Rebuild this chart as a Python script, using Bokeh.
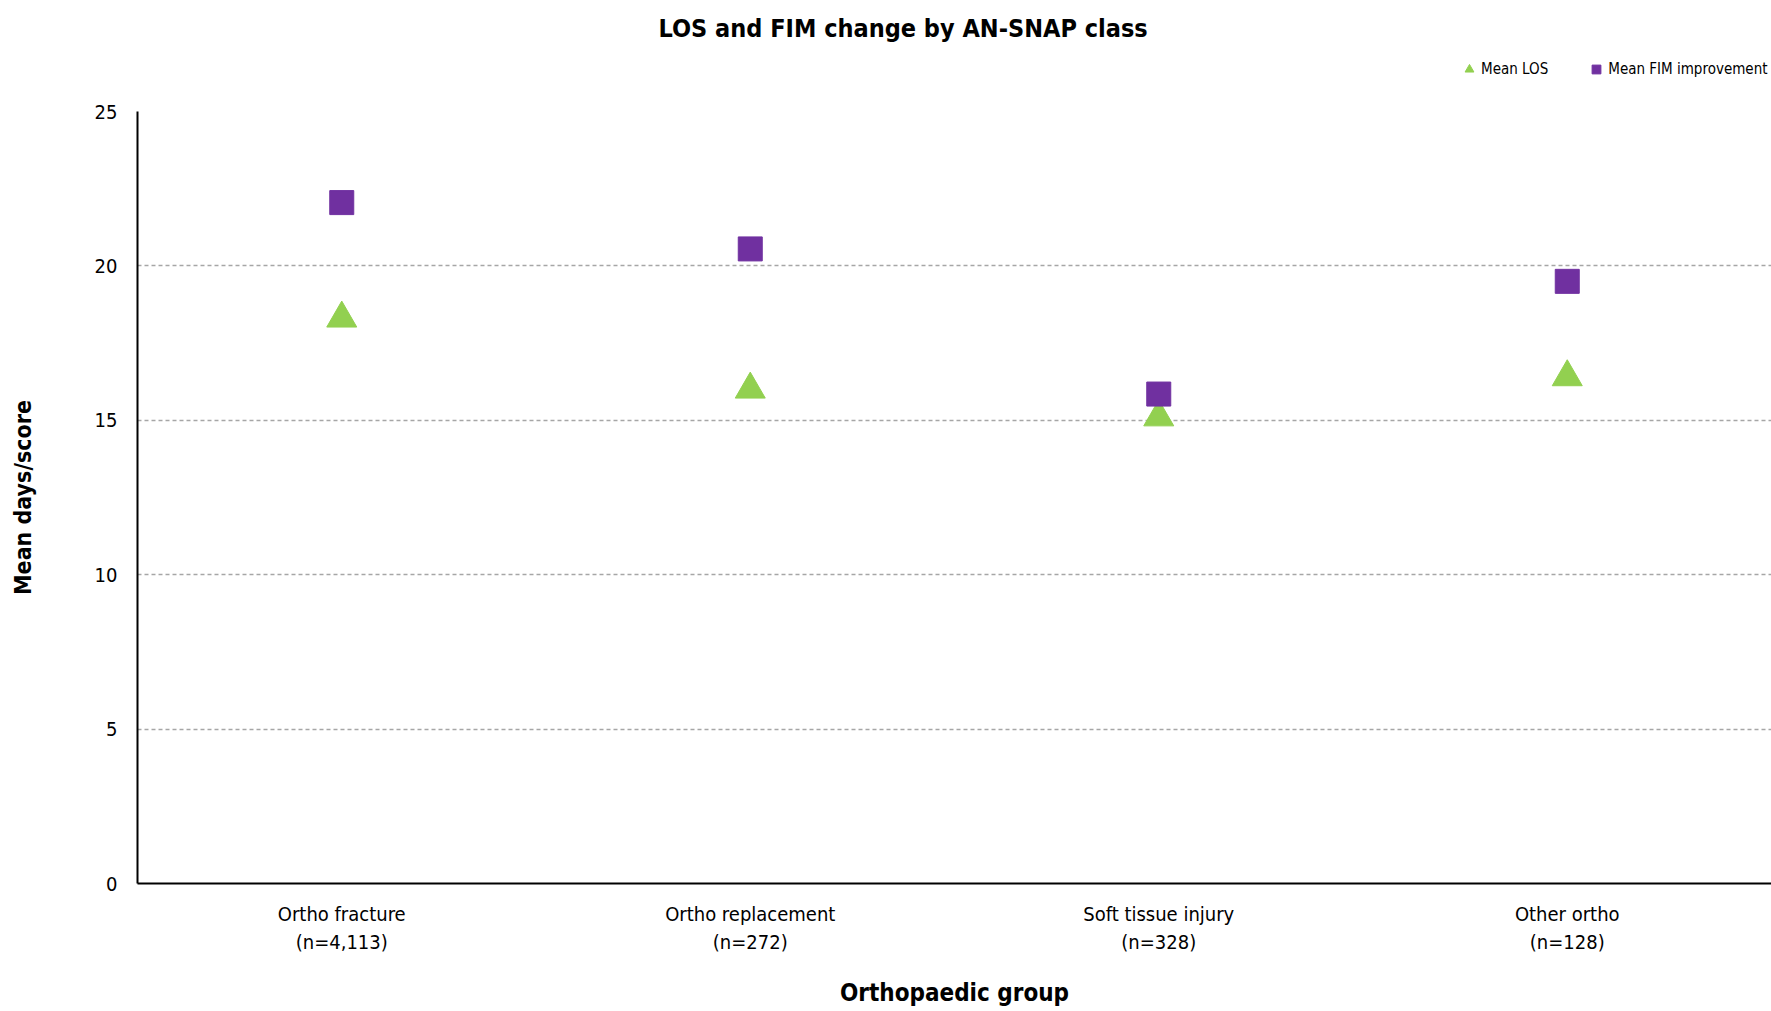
from bokeh.plotting import figure
from bokeh.layouts import column
from bokeh.models import ColumnDataSource, Legend, LegendItem, FixedTicker, Range1d
from bokeh.embed import file_html
from bokeh.resources import INLINE

categories = ["Ortho fracture\n(n=4,113)", "Ortho replacement\n(n=272)",
              "Soft tissue injury\n(n=328)", "Other ortho\n(n=128)"]
mean_los = [18.3, 16.0, 15.1, 16.4]
mean_fim = [22.05, 20.55, 15.85, 19.5]
y_ticks = [0, 5, 10, 15, 20, 25]
series_names = ["Mean LOS", "Mean FIM improvement"]

FONT = "'Liberation Sans Narrow', 'Arial Narrow', 'DejaVu Sans Condensed', Roboto, sans-serif"
GREEN = "#92D050"
PURPLE = "#7030A0"

src = ColumnDataSource(dict(cat=categories, los=mean_los, fim=mean_fim))

# ---- header: title + legend (its renderers' points lie outside its view) ----
head = figure(width=1771, height=100, x_range=categories, y_range=Range1d(0, 1),
              x_axis_location=None, y_axis_location=None,
              output_backend="svg", toolbar_location=None,
              min_border_left=137, min_border_right=0, min_border_top=42, min_border_bottom=0)
head.outline_line_color = None
head.grid.visible = False
head.title.text = "LOS and FIM change by AN-SNAP  class"
head.title.align = "left"
head.title.offset = 521
head.title.text_font = FONT
head.title.text_font_size = "25px"
head.title.text_font_style = "bold"
head.title.text_color = "black"
head.title.standoff = 0

h_los = head.scatter("cat", "los", source=src, marker="triangle", size=10,
                     fill_color=GREEN, line_color=GREEN)
h_fim = head.scatter("cat", "fim", source=src, marker="square", size=10,
                     fill_color=PURPLE, line_color=PURPLE)
legend = Legend(items=[LegendItem(label=series_names[0], renderers=[h_los]),
                       LegendItem(label=series_names[1], renderers=[h_fim])],
                orientation="horizontal", location=(1321, 20),
                label_text_font=FONT, label_text_font_size="15px", label_text_color="black",
                glyph_width=22, glyph_height=22, label_standoff=1, spacing=37,
                border_line_color=None, background_fill_alpha=0,
                margin=0, padding=4)
head.add_layout(legend)

# ---- main chart ----
p = figure(x_range=categories, y_range=Range1d(0, 25), width=1771, height=911,
           output_backend="svg", toolbar_location=None,
           min_border_left=137, min_border_right=0, min_border_top=11, min_border_bottom=128)
p.outline_line_color = None

p.scatter("cat", "los", source=src, marker="triangle", size=30,
          fill_color=GREEN, line_color=GREEN)
p.scatter("cat", "fim", source=src, marker="square", size=24,
          fill_color=PURPLE, line_color=PURPLE)

p.yaxis.ticker = FixedTicker(ticks=y_ticks)
p.yaxis.axis_line_width = 2
p.yaxis.axis_line_color = "black"
p.yaxis.major_tick_line_color = None
p.yaxis.minor_tick_line_color = None
p.yaxis.major_label_text_font = FONT
p.yaxis.major_label_text_font_size = "20px"
p.yaxis.major_label_text_color = "black"
p.yaxis.major_label_standoff = 14
p.yaxis.axis_label = "Mean days/score"
p.yaxis.axis_label_text_font = FONT
p.yaxis.axis_label_text_font_size = "23px"
p.yaxis.axis_label_text_font_style = "bold"
p.yaxis.axis_label_text_color = "black"
p.yaxis.axis_label_standoff = 56

p.xaxis.axis_line_width = 2
p.xaxis.axis_line_color = "black"
p.xaxis.major_tick_line_color = None
p.xaxis.minor_tick_line_color = None
p.xaxis.major_label_text_font = FONT
p.xaxis.major_label_text_font_size = "20px"
p.xaxis.major_label_text_color = "black"
p.xaxis.major_label_standoff = 12
p.xaxis.axis_label = "Orthopaedic group"
p.xaxis.axis_label_text_font = FONT
p.xaxis.axis_label_text_font_size = "24px"
p.xaxis.axis_label_text_font_style = "bold"
p.xaxis.axis_label_text_color = "black"
p.xaxis.axis_label_standoff = 22

p.xgrid.grid_line_color = None
p.ygrid.grid_line_color = "#a6a6a6"
p.ygrid.grid_line_dash = "4 3"
p.ygrid.grid_line_width = 1.5

layout = column(head, p, spacing=0)
open("out.html", "w").write(file_html(layout, INLINE))
